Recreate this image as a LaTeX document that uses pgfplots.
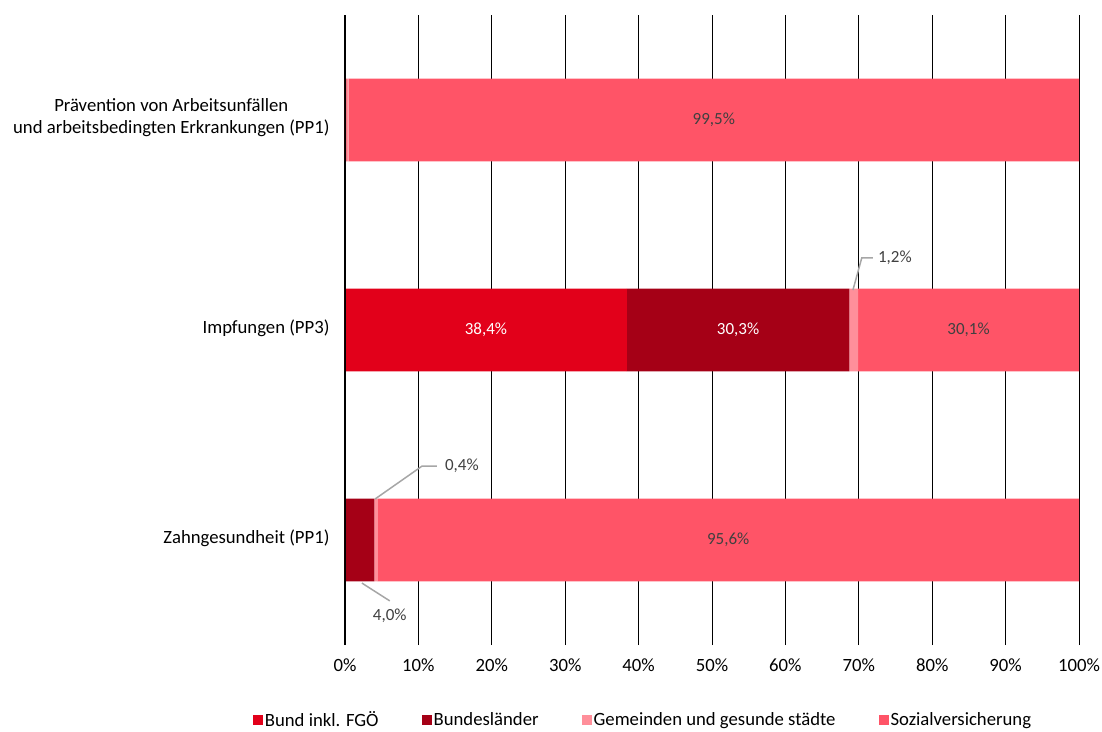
\documentclass[border=0pt]{standalone}
\usepackage{pgfplots}
\pgfplotsset{compat=1.18}
\usepackage{fontspec}
\setmainfont{Carlito}
\definecolor{cBund}{HTML}{E2001A}
\definecolor{cLand}{HTML}{A50016}
\definecolor{cGem}{HTML}{FF8F9A}
\definecolor{cSoz}{HTML}{FF5467}
\definecolor{cLab}{HTML}{404040}
\definecolor{cLead}{HTML}{A6A6A6}
\tikzset{dl/.style={font=\fontsize{17}{20}\selectfont}}
\begin{document}
\begin{tikzpicture}
\begin{axis}[
  scale only axis, width=734pt, height=630pt,
  xbar stacked, bar width=0.395,
  xmin=0, xmax=100, ymin=-0.5, ymax=2.5,
  xtick={0,10,...,100},
  xticklabel={\pgfmathprintnumber{\tick}\%},
  /pgf/number format/assume math mode=true,
  ytick={0,1,2},
  yticklabels={Zahngesundheit (PP1),Impfungen (PP3),{Prävention von Arbeitsunfällen\\und arbeitsbedingten Erkrankungen (PP1)}},
  yticklabel style={align=center, font=\fontsize{18.7}{22}\selectfont, xshift=-12pt, yshift=2pt},
  xticklabel style={font=\fontsize{18.7}{22}\selectfont, yshift=-10pt},
  xmajorgrids, grid style={black, line width=1pt},
  axis line style={draw=none}, major tick style={draw=none},
  legend columns=4,
  legend style={at={(0.406,-0.119)}, anchor=center, draw=none,
    font=\fontsize{18.7}{22}\selectfont,
    /tikz/every even column/.append style={column sep=41pt}},
  legend cell align=left,
  legend image code/.code={\fill[#1] (0pt,-5pt) rectangle (10pt,5pt);},
]
\addplot[fill=cBund, draw=none] coordinates {(0,0) (38.4,1) (0.2,2)};
\addlegendentry{Bund inkl. FGÖ}
\addplot[fill=cLand, draw=none] coordinates {(4.0,0) (30.3,1) (0,2)};
\addlegendentry{Bundesländer}
\addplot[fill=cGem, draw=none] coordinates {(0.4,0) (1.2,1) (0.3,2)};
\addlegendentry{Gemeinden und gesunde städte}
\addplot[fill=cSoz, draw=none] coordinates {(95.6,0) (30.1,1) (99.5,2)};
\addlegendentry{Sozialversicherung}
\coordinate (z0) at (axis cs:0,-0.5);
\coordinate (z1) at (axis cs:0,2.5);
\coordinate (a) at (axis cs:50.25,2);
\coordinate (b) at (axis cs:19.2,1);
\coordinate (c) at (axis cs:53.55,1);
\coordinate (d) at (axis cs:84.95,1);
\coordinate (e) at (axis cs:52.2,0);
\coordinate (f1) at (axis cs:69.2,1.19);
\coordinate (f2) at (axis cs:70.4,1.343);
\coordinate (f3) at (axis cs:71.9,1.343);
\coordinate (f4) at (axis cs:72.6,1.343);
\coordinate (g1) at (axis cs:4.09,0.195);
\coordinate (g2) at (axis cs:10.5,0.352);
\coordinate (g3) at (axis cs:12.5,0.352);
\coordinate (g4) at (axis cs:13.6,0.352);
\coordinate (h1) at (axis cs:2.3,-0.205);
\coordinate (h2) at (axis cs:6.1,-0.29);
\coordinate (h3) at (axis cs:6.1,-0.362);
\end{axis}
\draw[black, line width=1pt] (z0) -- (z1);
\node[dl, cLab] at (a) {99,5\%};
\node[dl, white] at (b) {38,4\%};
\node[dl, white] at (c) {30,3\%};
\node[dl, cLab] at (d) {30,1\%};
\node[dl, cLab] at (e) {95,6\%};
\draw[cLead, line width=1.5pt] (f1) -- (f2) -- (f3);
\node[dl, cLab, anchor=west, inner sep=0pt] at (f4) {1,2\%};
\draw[cLead, line width=1.5pt] (g1) -- (g2) -- (g3);
\node[dl, cLab, anchor=west, inner sep=0pt] at (g4) {0,4\%};
\draw[cLead, line width=1.5pt] (h1) -- (h2);
\node[dl, cLab] at (h3) {4,0\%};
\pgfresetboundingbox
\path (-345pt,-86pt) rectangle (757pt,645pt);
\end{tikzpicture}
\end{document}
